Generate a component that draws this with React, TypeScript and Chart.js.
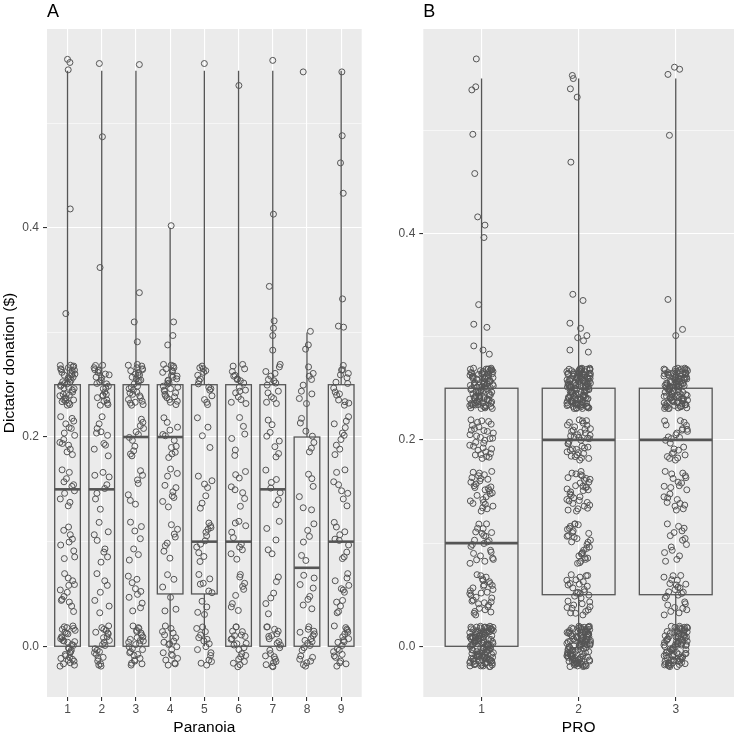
import React, { useEffect, useRef } from 'react';
import { Chart, registerables } from 'chart.js';

Chart.register(...registerables);

// ---------- data ----------
const LEVELS = [0, 0.05, 0.1, 0.15, 0.2, 0.25];

// Panel A: Paranoia
const PARANOIA_CATS = [1, 2, 3, 4, 5, 6, 7, 8, 9];
const PARANOIA_Q1 = [0, 0, 0, 0.05, 0.05, 0, 0, 0, 0];
const PARANOIA_MED = [0.15, 0.15, 0.2, 0.2, 0.1, 0.1, 0.15, 0.075, 0.1];
const PARANOIA_Q3 = [0.25, 0.25, 0.25, 0.25, 0.25, 0.25, 0.25, 0.2, 0.25];
const PARANOIA_LO = [0, 0, 0, 0, 0, 0, 0, 0, 0];
const PARANOIA_HI = [0.55, 0.55, 0.55, 0.4, 0.55, 0.55, 0.55, 0.3, 0.55];
// counts of responses at each LEVEL, per category
const PARANOIA_COUNTS = [
  [34, 13, 9, 11, 15, 42],
  [24, 7, 8, 8, 10, 28],
  [28, 10, 7, 7, 12, 32],
  [20, 6, 8, 10, 12, 30],
  [16, 10, 12, 7, 4, 16],
  [22, 9, 10, 8, 6, 18],
  [22, 6, 5, 7, 8, 15],
  [20, 8, 6, 6, 7, 9],
  [22, 12, 10, 8, 10, 16],
];
// other observed values: [category, horizontal jitter, value]
const PARANOIA_EXTRA = [
  [1, 0, 0.561], [1, 0.07, 0.558], [1, 0.02, 0.551], [1, 0.08, 0.418], [1, -0.05, 0.318],
  [2, -0.07, 0.557], [2, 0.02, 0.487], [2, -0.05, 0.362],
  [3, 0.1, 0.556], [3, 0.1, 0.338], [3, -0.05, 0.31], [3, 0.04, 0.291],
  [4, 0.03, 0.402], [4, 0.1, 0.31], [4, 0.08, 0.297], [4, -0.07, 0.288],
  [5, 0, 0.557],
  [6, 0.01, 0.536],
  [7, 0, 0.56], [7, 0.02, 0.413], [7, -0.1, 0.344], [7, 0.04, 0.311], [7, 0.02, 0.304], [7, 0, 0.297], [7, 0, 0.283],
  [8, -0.11, 0.549], [8, 0.1, 0.301], [8, 0.04, 0.288], [8, -0.04, 0.284],
  [9, 0.02, 0.549], [9, 0.03, 0.488], [9, -0.02, 0.462], [9, 0.06, 0.433], [9, 0.04, 0.332], [9, -0.08, 0.306], [9, 0.07, 0.305],
];

// Panel B: PRO
const PRO_CATS = [1, 2, 3];
const PRO_Q1 = [0, 0.05, 0.05];
const PRO_MED = [0.1, 0.2, 0.2];
const PRO_Q3 = [0.25, 0.25, 0.25];
const PRO_LO = [0, 0, 0];
const PRO_HI = [0.55, 0.55, 0.55];
const PRO_COUNTS = [
  [125, 32, 24, 30, 32, 100],
  [115, 32, 30, 34, 40, 135],
  [90, 26, 15, 22, 26, 110],
];
const PRO_EXTRA = [
  [1, -0.054, 0.569], [1, -0.06, 0.542], [1, -0.1, 0.539], [1, -0.09, 0.496], [1, -0.07, 0.458],
  [1, -0.04, 0.416], [1, 0.035, 0.408], [1, 0.025, 0.396], [1, -0.03, 0.331], [1, -0.08, 0.312],
  [1, 0.055, 0.309], [1, -0.08, 0.291], [1, 0.015, 0.287], [1, 0.08, 0.283],
  [2, -0.065, 0.553], [2, -0.055, 0.55], [2, -0.085, 0.54], [2, -0.015, 0.532], [2, -0.08, 0.469],
  [2, -0.06, 0.341], [2, 0.045, 0.335], [2, -0.09, 0.313], [2, 0.02, 0.308], [2, 0.085, 0.301],
  [2, -0.01, 0.299], [2, 0.05, 0.296], [2, -0.09, 0.287], [2, 0.1, 0.285],
  [3, -0.013, 0.561], [3, 0.04, 0.559], [3, -0.08, 0.554], [3, -0.065, 0.495],
  [3, -0.08, 0.336], [3, 0.07, 0.307], [3, 0, 0.301],
];

// fixed jitter tables (hand-written)
const JX = [0.62, -0.41, 0.13, -0.87, 0.35, 0.91, -0.22, -0.66, 0.48, 0.05, -0.95, 0.74, -0.33, 0.27, -0.58, 0.83,
  -0.09, 0.41, -0.76, 0.18, 0.97, -0.51, 0.02, -0.29, 0.69, -0.84, 0.56, -0.14, 0.31, -0.69, 0.88, -0.45, 0.09,
  0.77, -0.92, 0.23, -0.37, 0.52, -0.03, 0.65, -0.79, 0.16, -0.61, 0.94, -0.18, 0.38, -0.88, 0.71, -0.25, 0.46,
  -0.55, 0.11, 0.84, -0.71, 0.29, -0.06, 0.58, -0.97, 0.2, -0.48, 0.79];
const JY = [-0.35, 0.72, -0.88, 0.14, 0.51, -0.62, 0.93, -0.07, 0.36, -0.79, 0.22, -0.46, 0.81, -0.19, 0.59, -0.95,
  0.04, 0.67, -0.53, 0.28, -0.71, 0.89, -0.26, 0.45, -0.12, 0.76, -0.84, 0.19, -0.39, 0.97, -0.58, 0.08, 0.63,
  -0.31, 0.41, -0.9, 0.25, -0.66, 0.85, -0.02, 0.54, -0.44, 0.12, -0.81, 0.7, -0.16, 0.33, -0.73, 0.92, -0.5,
  0.06, 0.47, -0.98];

// ---------- styling ----------
const FONT = "'Liberation Sans', Arial, Helvetica, sans-serif";
const INK = '#555555';
const PANEL_BG = '#EBEBEB';

type Panel = {
  letter: string;
  cats: number[];
  q1: number[]; med: number[]; q3: number[]; lo: number[]; hi: number[];
  counts: number[][];
  extra: number[][];
  xTitle: string;
  yTitle: string | null;
  jitterW: number;
  yMin: number; yMax: number;
  xMin: number; xMax: number;
  yAxisWidth: number;
  padRight: number;
};

function buildPoints(p: Panel) {
  const pts: { x: number; y: number }[] = [];
  p.cats.forEach((cat, c) => {
    p.counts[c].forEach((n, l) => {
      for (let k = 0; k < n; k++) {
        const jx = JX[(k + c * 13 + l * 29) % JX.length];
        const jy = JY[(k + c * 7 + l * 17 + 5) % JY.length];
        pts.push({ x: cat + jx * p.jitterW, y: LEVELS[l] + jy * 0.02 });
      }
    });
  });
  p.extra.forEach(([cat, dx, v]) => pts.push({ x: cat + dx, y: v }));
  return pts;
}

function isMajor(v: number) {
  return Math.round(v * 10) % 2 === 0;
}

function makePlugin(p: Panel) {
  return {
    id: 'panel' + p.letter,
    beforeDraw(chart: any) {
      const { ctx, chartArea: a } = chart;
      ctx.save();
      ctx.fillStyle = PANEL_BG;
      ctx.fillRect(a.left, a.top, a.right - a.left, a.bottom - a.top);
      ctx.restore();
    },
    beforeDatasetsDraw(chart: any) {
      const { ctx } = chart;
      const xs = chart.scales.x;
      const ys = chart.scales.y;
      ctx.save();
      ctx.strokeStyle = INK;
      p.cats.forEach((cat, i) => {
        const cx = xs.getPixelForValue(cat);
        const hw = xs.getPixelForValue(cat + 0.375) - cx;
        const y1 = ys.getPixelForValue(p.q1[i]);
        const y3 = ys.getPixelForValue(p.q3[i]);
        const ym = ys.getPixelForValue(p.med[i]);
        const yl = ys.getPixelForValue(p.lo[i]);
        const yh = ys.getPixelForValue(p.hi[i]);
        ctx.lineWidth = 1.3;
        ctx.beginPath();
        ctx.moveTo(cx, y3); ctx.lineTo(cx, yh);
        if (yl > y1 + 0.5) { ctx.moveTo(cx, y1); ctx.lineTo(cx, yl); }
        ctx.stroke();
        ctx.strokeRect(cx - hw, y3, 2 * hw, y1 - y3);
        ctx.lineWidth = 2.6;
        ctx.beginPath();
        ctx.moveTo(cx - hw, ym); ctx.lineTo(cx + hw, ym);
        ctx.stroke();
      });
      ctx.restore();
    },
    afterDraw(chart: any) {
      const { ctx, chartArea: a } = chart;
      ctx.save();
      ctx.fillStyle = '#000';
      ctx.font = `18px ${FONT}`;
      ctx.textBaseline = 'alphabetic';
      ctx.textAlign = 'left';
      ctx.fillText(p.letter, a.left, 16.7);
      ctx.restore();
    },
  };
}

function makeConfig(p: Panel): any {
  return {
    type: 'scatter',
    data: {
      datasets: [{
        data: buildPoints(p),
        showLine: false,
        pointRadius: 3,
        pointHoverRadius: 3,
        pointBorderWidth: 1,
        pointBorderColor: INK,
        pointBackgroundColor: 'rgba(0,0,0,0)',
      }],
    },
    options: {
      responsive: false,
      animation: false,
      events: [],
      layout: { padding: { top: 29, right: p.padRight, left: 0, bottom: 0 } },
      plugins: { legend: { display: false }, tooltip: { enabled: false }, title: { display: false } },
      scales: {
        x: {
          type: 'linear',
          min: p.xMin,
          max: p.xMax,
          afterFit: (s: any) => { s.height = 42; },
          border: { display: false },
          grid: { color: '#ffffff', lineWidth: 1.1, tickColor: '#333333', tickLength: 4, tickWidth: 1.1 },
          ticks: {
            stepSize: 1,
            includeBounds: false,
            autoSkip: false,
            maxRotation: 0,
            padding: 1,
            color: '#4D4D4D',
            font: { family: FONT, size: 12 },
            callback: (v: number) => String(Math.round(v)),
          },
          title: {
            display: true,
            text: p.xTitle,
            color: '#000',
            font: { family: FONT, size: 15.5 },
            padding: { top: 0, bottom: 2 },
          },
        },
        y: {
          type: 'linear',
          min: p.yMin,
          max: p.yMax,
          afterFit: (s: any) => { s.width = p.yAxisWidth; },
          border: { display: false },
          grid: {
            color: '#ffffff',
            lineWidth: (ctx: any) => (ctx.tick && isMajor(ctx.tick.value) ? 1.1 : 0.55),
            tickColor: (ctx: any) => (ctx.tick && isMajor(ctx.tick.value) ? '#333333' : 'rgba(0,0,0,0)'),
            tickLength: 4,
            tickWidth: 1.1,
          },
          ticks: {
            stepSize: 0.1,
            includeBounds: false,
            padding: 4,
            color: '#4D4D4D',
            font: { family: FONT, size: 12 },
            callback: (v: number) => (isMajor(v) ? (Math.round(v * 10) / 10).toFixed(1) : ''),
          },
          title: {
            display: !!p.yTitle,
            text: p.yTitle || '',
            color: '#000',
            font: { family: FONT, size: 15.5 },
            padding: { top: 0, bottom: 0 },
          },
        },
      },
    },
    plugins: [makePlugin(p)],
  };
}

const PANEL_A: Panel = {
  letter: 'A',
  cats: PARANOIA_CATS,
  q1: PARANOIA_Q1, med: PARANOIA_MED, q3: PARANOIA_Q3, lo: PARANOIA_LO, hi: PARANOIA_HI,
  counts: PARANOIA_COUNTS,
  extra: PARANOIA_EXTRA,
  xTitle: 'Paranoia',
  yTitle: 'Dictator donation ($)',
  jitterW: 0.23,
  yMin: -0.0485, yMax: 0.59,
  xMin: 0.4, xMax: 9.6,
  yAxisWidth: 47,
  padRight: 8.3,
};

const PANEL_B: Panel = {
  letter: 'B',
  cats: PRO_CATS,
  q1: PRO_Q1, med: PRO_MED, q3: PRO_Q3, lo: PRO_LO, hi: PRO_HI,
  counts: PRO_COUNTS,
  extra: PRO_EXTRA,
  xTitle: 'PRO',
  yTitle: null,
  jitterW: 0.125,
  yMin: -0.0491, yMax: 0.598,
  xMin: 0.4, xMax: 3.6,
  yAxisWidth: 53.3,
  padRight: 1.3,
};

function PanelChart({ panel, width, height }: { panel: Panel; width: number; height: number }) {
  const ref = useRef<HTMLCanvasElement | null>(null);
  useEffect(() => {
    if (!ref.current) return;
    const chart = new Chart(ref.current, makeConfig(panel));
    return () => chart.destroy();
  }, [panel]);
  return <canvas ref={ref} width={width} height={height} style={{ display: 'block', width, height }} />;
}

export default function App() {
  return (
    <div style={{ position: 'absolute', left: 0, top: 0, width: 738, height: 739, background: '#fff', display: 'flex' }}>
      <PanelChart panel={PANEL_A} width={370} height={739} />
      <PanelChart panel={PANEL_B} width={368} height={739} />
    </div>
  );
}
